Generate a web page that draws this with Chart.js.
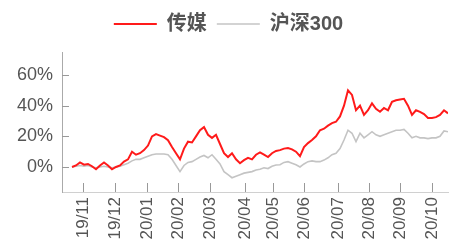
<!DOCTYPE html>
<html>
<head>
<meta charset="utf-8">
<script src="https://cdn.jsdelivr.net/npm/chart.js@4/dist/chart.umd.min.js"></script>
<style>
  html, body { margin: 0; padding: 0; background: #fff; }
  #wrap { width: 459px; height: 248px; }
</style>
</head>
<body>
<div id="wrap"><canvas id="chart"></canvas></div>
<script>
"use strict";
// month ticks (position on the day-step axis) and their labels
const monthLabels = ["19/11", "19/12", "20/01", "20/02", "20/03", "20/04", "20/05", "20/06", "20/07", "20/08", "20/09", "20/10"];
const monthPos = [2.75, 10.75, 18.75, 26.5, 34.5, 43.25, 50.25, 58, 66.5, 74.25, 82, 90];
const yTicks = [0, 20, 40, 60];

// cumulative return, %
const media = [0, 1, 3, 1.5, 2, 0.5, -1.5, 1, 3, 1, -1.5, 0, 1, 3.5, 5, 10, 8, 9, 11, 14,
  20, 21.5, 20.5, 19.5, 17.5, 13, 9, 5, 12, 16.5, 16, 20, 24, 26, 21, 19, 21, 15, 9, 6.5,
  9, 5, 2.5, 4.5, 6, 5, 8, 9.5, 8, 6.5, 9, 10.5, 11, 12, 12.4, 11.5, 10, 7, 13, 15.6,
  17.6, 20, 24, 25, 27, 28.6, 29.5, 33, 40, 50, 47, 37, 40, 34, 37, 41.5, 38, 36, 38.5, 37,
  42.5, 43.5, 44, 44.5, 40, 34, 37, 36, 34.5, 32, 32, 32.5, 34, 37, 35];
const hs300 = [0, 0.5, 1, 0.5, 1, 0, -0.5, 0, 0.5, 0, -0.5, 0, 0.5, 1.5, 2.5, 4, 5, 5, 6, 7,
  8, 8.5, 8.5, 8.5, 8, 5, 1, -3, 1, 3, 3.5, 5, 6.5, 7.5, 6, 8, 5, 2, -3, -5,
  -7, -6, -5, -4, -3.5, -3, -2, -1.5, -0.5, -1, 0.5, 1.3, 1.5, 3, 3.5, 2.5, 1.5, 0, 2, 3.5,
  4, 3.5, 3.5, 4.5, 6, 8, 9, 12, 17.6, 24, 22, 16.5, 22, 19, 21, 23, 21, 20, 21, 22,
  23, 24, 24, 24.5, 22, 19, 20, 19, 19, 18.5, 19, 19, 20, 23.5, 23];

const fontFamily = "'Liberation Sans', 'Noto Sans CJK SC', sans-serif";
Chart.defaults.font.family = fontFamily;
Chart.defaults.color = "#555";

function toPoints(arr) {
    return arr.map((v, i) => ({ x: i, y: v }));
}

// small tick marks pointing into the plot
const innerTicks = {
    id: "innerTicks",
    afterDraw(chart) {
        const ctx = chart.ctx;
        const xs = chart.scales.x;
        const ys = chart.scales.y;
        ctx.save();
        ctx.strokeStyle = "#999";
        ctx.lineWidth = 1;
        ctx.beginPath();
        monthPos.forEach(v => {
            const px = Math.round(xs.getPixelForValue(v)) + 0.5;
            ctx.moveTo(px, xs.top);
            ctx.lineTo(px, xs.top - 9);
        });
        yTicks.forEach(v => {
            const py = Math.round(ys.getPixelForValue(v)) + 0.5;
            ctx.moveTo(ys.right, py);
            ctx.lineTo(ys.right + 7, py);
        });
        ctx.stroke();
        ctx.restore();
    }
};

// leave some room between the legend and the plot
const legendGap = {
    id: "legendGap",
    beforeLayout(chart) {
        const lg = chart.legend;
        if (lg && !lg._gapPatched) {
            const fit = lg.fit.bind(lg);
            lg.fit = function () {
                fit();
                this.height += 8;
            };
            lg._gapPatched = true;
        }
    }
};

new Chart(document.getElementById("chart"), {
    type: "line",
    data: {
        datasets: [{
                label: "传媒",
                data: toPoints(media),
                borderColor: "#ff1a1a",
                backgroundColor: "#ff1a1a",
                borderWidth: 2,
                pointRadius: 0,
                pointStyle: "line"
            }, {
                label: "沪深300",
                data: toPoints(hs300),
                borderColor: "#c4c4c4",
                backgroundColor: "#c4c4c4",
                borderWidth: 1.6,
                pointRadius: 0,
                pointStyle: "line"
            }]
    },
    options: {
        responsive: true,
        maintainAspectRatio: false,
        animation: false,
        layout: {
            padding: { left: 9, right: 11, top: 4, bottom: 0 }
        },
        scales: {
            x: {
                type: "linear",
                min: -2.5,
                max: 94,
                grid: { display: false, drawTicks: false },
                border: { display: true, color: "#d0d0d0" },
                afterBuildTicks: (scale) => {
                    scale.ticks = monthPos.map(v => ({ value: v }));
                },
                afterFit: (scale) => { scale.height = 56; },
                ticks: {
                    autoSkip: false,
                    maxRotation: 90,
                    minRotation: 90,
                    padding: 5,
                    font: { size: 17 },
                    callback: (value, index) => monthLabels[index]
                }
            },
            y: {
                min: -16.3,
                max: 75,
                grid: { display: false, drawTicks: false },
                border: { display: true, color: "#aaa" },
                afterBuildTicks: (scale) => {
                    scale.ticks = yTicks.map(v => ({ value: v }));
                },
                afterFit: (scale) => { scale.width = 53; },
                ticks: {
                    padding: 9,
                    font: { size: 18 },
                    callback: (value) => value + "%"
                }
            }
        },
        plugins: {
            legend: {
                position: "top",
                labels: {
                    usePointStyle: true,
                    pointStyleWidth: 43,
                    boxHeight: 20,
                    padding: 10,
                    color: "#555",
                    font: { size: 20, weight: "bold" }
                }
            },
            tooltip: { enabled: false }
        }
    },
    plugins: [innerTicks, legendGap]
});
</script>
</body>
</html>
